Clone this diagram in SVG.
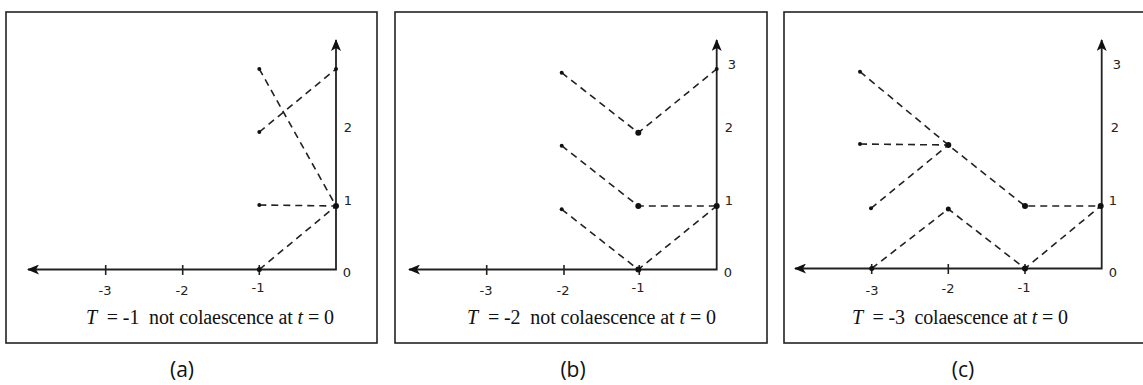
<svg xmlns="http://www.w3.org/2000/svg" width="1143" height="385" viewBox="0 0 1143 385">
<style>
.frame{fill:none;stroke:#222;stroke-width:1.6}
.axis{fill:none;stroke:#222;stroke-width:1.8;marker-start:url(#arr);marker-end:url(#arr)}
.tick{stroke:#222;stroke-width:1.6}
.dash{fill:none;stroke:#222;stroke-width:1.6;stroke-dasharray:7 5}
.dot{fill:#111}
.num{font-family:"DejaVu Sans","Liberation Sans",sans-serif;font-size:13px;fill:#222;text-anchor:middle}
.cap{font-family:"Liberation Serif",serif;font-size:20px;fill:#111}
.sub{font-family:"Open Sans","Noto Sans",sans-serif;font-size:21px;fill:#111;text-anchor:middle}
</style>
<defs>
<marker id="arr" viewBox="0 0 12 10" refX="11" refY="5" markerWidth="12" markerHeight="10" markerUnits="userSpaceOnUse" orient="auto-start-reverse">
<path d="M0,0 L12,5 L0,10 L3,5 z" fill="#111"/>
</marker>
</defs>

<g id="panel-a">
<rect class="frame" x="6" y="12" width="371" height="331"/>
<path class="axis" d="M28,269.5 H336 V40"/>
<line class="tick" x1="105.7" y1="265" x2="105.7" y2="275"/>
<line class="tick" x1="182.7" y1="265" x2="182.7" y2="275"/>
<line class="tick" x1="259.3" y1="265" x2="259.3" y2="275"/>
<text class="num" x="105" y="295">-3</text>
<text class="num" x="182" y="295">-2</text>
<text class="num" x="258" y="292">-1</text>
<text class="num" x="347" y="277">0</text>
<text class="num" x="348" y="205">1</text>
<text class="num" x="348" y="132">2</text>
<g id="conn-a">
<path class="dash" d="M259.3,69 L336,206"/>
<path class="dash" d="M259.3,132 L336,69"/>
<path class="dash" d="M259.3,205 L336,206"/>
<path class="dash" d="M259.3,269.5 L336,206"/>
</g>
<circle class="dot" cx="259.3" cy="69" r="2"/>
<circle class="dot" cx="259.3" cy="132" r="2"/>
<circle class="dot" cx="259.3" cy="205" r="2"/>
<circle class="dot" cx="259.3" cy="269.5" r="2.5"/>
<circle class="dot" cx="336" cy="69" r="2"/>
<circle class="dot" cx="336" cy="206" r="3"/>
<text class="cap" x="86" y="324" xml:space="preserve" textLength="248" lengthAdjust="spacing"><tspan font-style="italic">T</tspan>  = -1  not colaescence at <tspan font-style="italic">t</tspan> = 0</text>
<text class="sub" x="182" y="377">(a)</text>
</g>

<g id="panel-b">
<rect class="frame" x="395" y="12" width="372" height="331"/>
<path class="axis" d="M409,269.5 H716.7 V40"/>
<line class="tick" x1="486.7" y1="265" x2="486.7" y2="275"/>
<line class="tick" x1="564" y1="265" x2="564" y2="275"/>
<line class="tick" x1="639.3" y1="265" x2="639.3" y2="275"/>
<text class="num" x="486" y="295">-3</text>
<text class="num" x="563" y="295">-2</text>
<text class="num" x="638" y="292">-1</text>
<text class="num" x="728" y="277">0</text>
<text class="num" x="729" y="205">1</text>
<text class="num" x="729" y="132">2</text>
<text class="num" x="732" y="69">3</text>
<g id="conn-b">
<path class="dash" d="M561.7,72.7 L638.3,132.7 L716.7,69"/>
<path class="dash" d="M561.7,145.7 L638.3,206 L716.7,206"/>
<path class="dash" d="M561.7,209.3 L638.3,269.5 L716.7,206"/>
</g>
<circle class="dot" cx="561.7" cy="72.7" r="2"/>
<circle class="dot" cx="561.7" cy="145.7" r="2"/>
<circle class="dot" cx="561.7" cy="209.3" r="2"/>
<circle class="dot" cx="638.3" cy="132.7" r="3"/>
<circle class="dot" cx="638.3" cy="206" r="3"/>
<circle class="dot" cx="638.3" cy="269.5" r="3"/>
<circle class="dot" cx="716.7" cy="69" r="2"/>
<circle class="dot" cx="716.7" cy="206" r="3"/>
<text class="cap" x="467" y="324" xml:space="preserve" textLength="249" lengthAdjust="spacing"><tspan font-style="italic">T</tspan>  = -2  not colaescence at <tspan font-style="italic">t</tspan> = 0</text>
<text class="sub" x="573" y="377">(b)</text>
</g>

<g id="panel-c">
<rect class="frame" x="784" y="12" width="362" height="331"/>
<path class="axis" d="M795,268.5 H1101.7 V40"/>
<line class="tick" x1="871.7" y1="264" x2="871.7" y2="274"/>
<line class="tick" x1="948.3" y1="264" x2="948.3" y2="274"/>
<line class="tick" x1="1025" y1="264" x2="1025" y2="274"/>
<text class="num" x="872" y="295">-3</text>
<text class="num" x="948" y="293">-2</text>
<text class="num" x="1024" y="292">-1</text>
<text class="num" x="1113" y="277">0</text>
<text class="num" x="1113" y="205">1</text>
<text class="num" x="1115" y="132">2</text>
<text class="num" x="1117" y="69">3</text>
<g id="conn-c">
<path class="dash" d="M860,71.7 L948.3,145 L1025,206 L1100.7,206"/>
<path class="dash" d="M860,144 L948.3,145"/>
<path class="dash" d="M871,208.3 L948.3,145"/>
<path class="dash" d="M871.7,268.5 L948.3,209 L1025,268.5 L1100.7,206"/>
</g>
<circle class="dot" cx="860" cy="71.7" r="2"/>
<circle class="dot" cx="860" cy="144" r="2"/>
<circle class="dot" cx="871" cy="208.3" r="2"/>
<circle class="dot" cx="948.3" cy="145" r="3"/>
<circle class="dot" cx="948.3" cy="209" r="2.5"/>
<circle class="dot" cx="1025" cy="206" r="3"/>
<circle class="dot" cx="1025" cy="268.5" r="3"/>
<circle class="dot" cx="871.7" cy="268.5" r="2.5"/>
<circle class="dot" cx="1100.7" cy="206" r="3"/>
<text class="cap" x="852" y="324" xml:space="preserve" textLength="216" lengthAdjust="spacing"><tspan font-style="italic">T</tspan>  = -3  colaescence at <tspan font-style="italic">t</tspan> = 0</text>
<text class="sub" x="963" y="377">(c)</text>
</g>
</svg>
